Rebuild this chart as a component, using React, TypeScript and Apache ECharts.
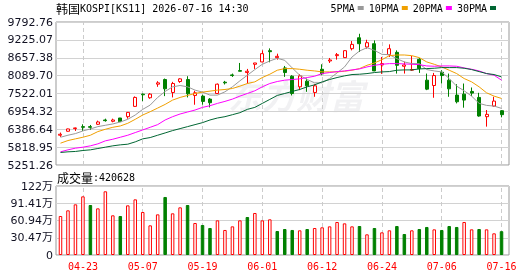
import React, { useEffect, useRef } from 'react';
import * as echarts from 'echarts';

const dates = [
  '04-20','04-21','04-22','04-23','04-24','04-27','04-28','04-29','04-30','05-04',
  '05-06','05-07','05-08','05-11','05-12','05-13','05-14','05-15','05-18','05-19',
  '05-20','05-21','05-22','05-26','05-27','05-28','05-29','06-01','06-02','06-04',
  '06-05','06-08','06-09','06-10','06-11','06-12','06-15','06-16','06-17','06-18',
  '06-19','06-22','06-23','06-24','06-25','06-26','06-29','06-30','07-01','07-02',
  '07-03','07-06','07-07','07-08','07-09','07-10','07-13','07-14','07-15','07-16'
];

const opens = [
  6197,6323,6407,6470,6470,6544,6681,6639,6744,6786,
  7113,7502,7387,7818,7966,7555,7903,7966,7460,7439,
  7344,7523,7881,8113,8250,8187,8450,8524,8882,8661,
  8334,8071,7734,7913,7555,8292,8555,8724,8661,8945,
  9292,9000,9103,8429,8756,8829,8387,8262,8608,7945,
  7776,8197,7945,7471,7502,7587,7397,6786,7123,6976
];
const closes = [
  6228,6397,6428,6449,6449,6618,6660,6681,6628,6923,
  7397,7481,7502,7860,7671,7839,7987,7513,7544,7271,
  7229,7818,7860,8092,8229,8229,8492,8787,8850,8703,
  8187,7523,8081,7766,7766,8145,8587,8756,8882,9082,
  9103,9135,8240,8471,8945,8418,8429,8284,8313,7660,
  8092,8092,7671,7260,7313,7534,6807,6860,7281,6850
];
const lows = [
  6144,6312,6333,6333,6365,6523,6628,6607,6618,6723,
  7102,7281,7355,7734,7439,7397,7860,7397,7165,7165,
  7081,7502,7808,8050,8229,7839,8303,8513,8513,8597,
  8050,7460,7629,7576,7418,8103,8492,8597,8650,8892,
  8840,8945,8229,8145,8682,8155,8155,8240,8176,7629,
  7387,7839,7418,7208,7071,7439,6786,6470,7102,6765
];
const highs = [
  6281,6407,6439,6544,6523,6660,6723,6723,6744,6934,
  7429,7523,7534,7913,7997,7892,8008,8071,7608,7481,
  7376,7839,7923,8155,8492,8303,8492,8892,8955,8787,
  8397,8103,8134,7997,7818,8450,8650,8808,8892,9187,
  9419,9229,9208,8682,9082,8892,8534,8713,8650,8155,
  8176,8261,8155,7818,7839,7713,7544,6997,7418,6997
];

const ma5 = [
  6133,6197,6249,6333,6397,6470,6513,6555,6618,6702,
  6839,7018,7155,7397,7587,7734,7776,7734,7629,7566,
  7471,7471,7576,7734,7924,8103,8282,8450,8555,8640,
  8576,8334,8103,7966,7860,7860,7997,8176,8366,8682,
  8871,8977,8892,8766,8755,8629,8524,8471,8471,8282,
  8239,8208,7997,7755,7608,7439,7208,7144,7123,7050
];
const ma10 = [
  5944,6028,6081,6133,6197,6312,6386,6449,6491,6576,
  6702,6839,6944,7060,7176,7313,7397,7460,7523,7566,
  7597,7629,7650,7681,7755,7839,7892,8029,8134,8261,
  8313,8313,8292,8261,8239,8208,8208,8208,8229,8261,
  8313,8418,8492,8597,8724,8745,8745,8724,8661,8524,
  8450,8366,8261,8155,7997,7892,7734,7544,7439,7365
];
const ma20 = [
  5670,5733,5786,5817,5860,5923,6018,6070,6133,6197,
  6281,6365,6449,6534,6681,6786,6871,6934,6997,7081,
  7134,7208,7271,7344,7439,7523,7608,7734,7839,7903,
  7945,7966,7987,8029,8071,8155,8187,8218,8239,8271,
  8303,8366,8418,8450,8471,8471,8461,8450,8439,8397,
  8387,8397,8397,8387,8334,8292,8239,8155,8103,7945
];
const ma30 = [
  5649,5670,5681,5712,5733,5775,5817,5860,5891,5912,
  5986,6081,6123,6197,6270,6344,6407,6470,6534,6597,
  6681,6744,6786,6849,6913,7018,7081,7208,7334,7460,
  7523,7587,7650,7734,7797,7892,7966,8029,8082,8124,
  8134,8155,8187,8208,8218,8261,8271,8271,8303,8313,
  8324,8345,8345,8345,8324,8282,8218,8155,8124,8050
];

const volumes = [
  689000,789000,895000,1036000,883000,824000,1125000,701000,689000,877000,
  983000,760000,524000,718000,1025000,736000,842000,883000,565000,530000,
  477000,612000,442000,506000,612000,671000,742000,612000,630000,424000,
  459000,442000,436000,459000,477000,489000,506000,583000,559000,506000,
  512000,365000,477000,400000,436000,512000,371000,436000,459000,495000,
  453000,442000,512000,495000,583000,453000,459000,453000,383000,420628
];
// 1 = red (up), 0 = green (down)
const volumeUp = [
  1,1,1,1,0,1,1,1,0,1,
  1,1,1,1,0,1,1,0,1,0,
  0,1,1,1,1,0,1,1,1,0,
  0,0,1,0,1,1,1,1,1,1,
  0,1,0,1,1,0,0,1,0,0,
  1,0,0,0,1,1,0,1,1,0
];

const priceTicks = ['5251.26','5818.95','6386.64','6954.32','7522.01','8089.70','8657.38','9225.07','9792.76'];
const priceMin = 5251.26;
const priceMax = 9792.76;
const volTicks = ['0','30.47万','60.94万','91.41万','122万'];
const volStep = 304700;
const volMax = 1218800;

const labelDates = ['04-23','05-07','05-19','06-01','06-12','06-24','07-06','07-16'];

const RED = '#ff0000';
const GREEN = '#008000';

export default function App() {
  const ref = useRef<HTMLDivElement>(null);
  useEffect(() => {
    const chart = echarts.init(ref.current!, null, { renderer: 'svg' });
    const kData = dates.map((_, i) => [opens[i], closes[i], lows[i], highs[i]]);
    const vData = volumes.map((v, i) => ({
      value: v,
      itemStyle: volumeUp[i]
        ? { color: '#ffffff', borderColor: RED, borderWidth: 1 }
        : { color: GREEN, borderColor: GREEN, borderWidth: 1 },
    }));
    const markLine = {
      silent: true,
      z: 1,
      symbol: ['none', 'none'],
      label: { show: false },
      lineStyle: { type: [4, 3], color: '#cccccc', width: 1 },
      data: labelDates.map((d) => ({ xAxis: d })),
    };
    const axisFont = { fontFamily: '"DejaVu Sans", "Noto Sans CJK SC"', fontSize: 11, color: '#111122' };
    const monoRich = {
      a: { fontFamily: '"Noto Sans CJK SC"', fontSize: 12, fontWeight: 'normal', color: '#000' },
      b: { fontFamily: '"DejaVu Sans Mono"', fontSize: 10, fontWeight: 'normal', color: '#000' },
    };
    const maSeries = [
      { name: '5PMA', data: ma5, color: '#999999' },
      { name: '10PMA', data: ma10, color: '#f0a000' },
      { name: '20PMA', data: ma20, color: '#ff00ff' },
      { name: '30PMA', data: ma30, color: '#006633' },
    ].map((m) => ({
      type: 'line',
      name: m.name,
      xAxisIndex: 1,
      yAxisIndex: 1,
      data: m.data,
      showSymbol: false,
      symbol: 'none',
      z: 3,
      color: m.color,
      lineStyle: { width: 1, color: m.color },
    }));

    chart.setOption({
      animation: false,
      title: [
        {
          text: '{a|韩国}{b|KOSPI[KS11] 2026-07-16 14:30}',
          left: 56,
          top: 2,
          padding: 0,
          textStyle: { fontWeight: 'normal', rich: monoRich },
        },
        {
          text: '{a|成交量}{b|:' + volumes[volumes.length - 1] + '}',
          left: 57,
          top: 171,
          padding: 0,
          textStyle: { fontWeight: 'normal', rich: monoRich },
        },
      ],
      legend: {
        right: 34,
        top: 3,
        padding: 0,
        align: 'right',
        icon: 'rect',
        itemWidth: 6,
        itemHeight: 4,
        itemGap: 5,
        textStyle: { fontFamily: '"DejaVu Sans Mono"', fontSize: 10, color: '#000', padding: [0, -2, 0, 0] },
        data: ['5PMA', '10PMA', '20PMA', '30PMA'],
      },
      graphic: [
        {
          type: 'text',
          x: 228,
          y: 77,
          z: 0,
          silent: true,
          style: {
            text: '东方财富',
            fontFamily: '"Noto Sans CJK SC"',
            fontSize: 34,
            fontWeight: 'bold',
            fontStyle: 'italic',
            fill: 'rgba(60,60,90,0.07)',
          },
        },
      ],
      grid: [
        { left: 56, top: 22, width: 453, height: 143, show: true, borderColor: '#999999', borderWidth: 1, backgroundColor: 'transparent' },
        { left: 56.76, top: 22, width: 448.5, height: 143 },
        { left: 56, top: 186, width: 453, height: 69, show: true, borderColor: '#999999', borderWidth: 1, backgroundColor: 'transparent' },
        { left: 56.76, top: 186, width: 448.5, height: 69 },
      ],
      xAxis: [
        { gridIndex: 0, type: 'value', min: 0, max: 1, show: false },
        { gridIndex: 1, type: 'category', data: dates, show: false, boundaryGap: true },
        { gridIndex: 2, type: 'value', min: 0, max: 1, show: false },
        {
          gridIndex: 3,
          type: 'category',
          data: dates,
          boundaryGap: true,
          axisLine: { show: false },
          axisTick: { show: false },
          splitLine: { show: false },
          axisLabel: {
            interval: (index: number, value: string) => labelDates.indexOf(value) >= 0,
            color: RED,
            fontFamily: '"DejaVu Sans Mono"',
            fontSize: 10,
            margin: 6,
          },
        },
      ],
      yAxis: [
        {
          gridIndex: 0,
          type: 'value',
          min: 0,
          max: priceTicks.length - 1,
          interval: 1,
          axisLine: { show: false },
          axisTick: { show: false },
          splitLine: { show: true, lineStyle: { color: '#d2d2d2', width: 1 } },
          axisLabel: { ...axisFont, margin: 3, formatter: (v: number) => priceTicks[Math.round(v)] },
        },
        { gridIndex: 1, type: 'value', min: priceMin, max: priceMax, show: false, splitLine: { show: false } },
        {
          gridIndex: 2,
          type: 'value',
          min: 0,
          max: volMax,
          interval: volStep,
          axisLine: { show: false },
          axisTick: { show: false },
          splitLine: { show: true, lineStyle: { color: '#d2d2d2', width: 1 } },
          axisLabel: { ...axisFont, margin: 3, formatter: (v: number) => volTicks[Math.round(v / volStep)] },
        },
        { gridIndex: 3, type: 'value', min: 0, max: volMax, show: false, splitLine: { show: false } },
      ],
      series: [
        {
          type: 'candlestick',
          name: 'K',
          xAxisIndex: 1,
          yAxisIndex: 1,
          data: kData,
          barWidth: 3.5,
          z: 2,
          itemStyle: {
            color: '#ffffff',
            color0: GREEN,
            borderColor: RED,
            borderColor0: GREEN,
            borderWidth: 1,
          },
          markLine,
        },
        ...maSeries,
        {
          type: 'bar',
          name: 'VOL',
          xAxisIndex: 3,
          yAxisIndex: 3,
          data: vData,
          barWidth: 3.5,
          markLine,
        },
      ],
    });
    return () => chart.dispose();
  }, []);
  return <div ref={ref} style={{ position: 'fixed', left: 0, top: 0, width: 530, height: 276 }} />;
}
